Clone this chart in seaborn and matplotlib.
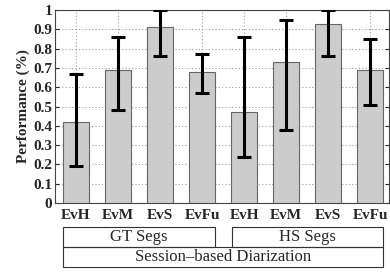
import matplotlib
matplotlib.use("Agg")
import matplotlib.pyplot as plt
from matplotlib.patches import Rectangle
import seaborn as sns
import pandas as pd
import numpy as np

# data
methods = ["EvH", "EvM", "EvS", "EvFu", "EvH", "EvM", "EvS", "EvFu"]
groups = ["GT Segs"] * 4 + ["HS Segs"] * 4
perf = [0.42, 0.69, 0.91, 0.68, 0.47, 0.73, 0.93, 0.69]
low = [0.19, 0.48, 0.76, 0.57, 0.24, 0.38, 0.76, 0.51]
high = [0.67, 0.86, 1.00, 0.77, 0.86, 0.95, 1.00, 0.85]
yticks = [0, 0.1, 0.2, 0.3, 0.4, 0.5, 0.6, 0.7, 0.8, 0.9, 1]
outer_label = "Session\u2013based Diarization"

sns.set_style("white")
plt.rcParams['font.family'] = ['Liberation Serif', 'DejaVu Serif']

df = pd.DataFrame({"key": [g + " " + m for g, m in zip(groups, methods)],
                   "perf": perf})

fig = plt.figure(figsize=(3.9, 2.73), dpi=100)
ax = fig.add_axes([55 / 390, 70 / 273, 334 / 390, 193 / 273])

sns.barplot(data=df, x="key", y="perf", color="#cccccc", edgecolor="#666666",
            linewidth=0.8, width=0.6, saturation=1, errorbar=None, ax=ax, zorder=3)

x = np.arange(len(perf))
ax.errorbar(x, perf, yerr=[np.array(perf) - np.array(low), np.array(high) - np.array(perf)],
            fmt="none", ecolor="black", elinewidth=2.2, capsize=5, capthick=2.2, zorder=4)

ax.set_xlim(-0.5, 7.45)
ax.set_ylim(0, 1)
ax.set_yticks(yticks)
ax.set_yticklabels(["0" if v == 0 else ("1" if v == 1 else "%.1f" % v) for v in yticks],
                   fontweight="bold", fontsize=11)
ax.set_xticks(x)
ax.set_xticklabels(methods, fontweight="bold", fontsize=11)
ax.set_xlabel("")
ax.set_ylabel("Performance (%)", fontweight="bold", fontsize=11, labelpad=2)
ax.tick_params(axis="both", length=3, direction="in", right=True, top=False,
               left=True, bottom=True)
ax.tick_params(axis="x", pad=4)
ax.tick_params(axis="y", pad=2)
ax.grid(True, linestyle=(0, (1, 2)), color="#999999", linewidth=0.8, zorder=0)
for s in ax.spines.values():
    s.set_color("#444444")
    s.set_linewidth(0.8)

# group boxes under the axis
def box(x0, y0, w, h, text):
    r = Rectangle((x0 / 390, 1 - (y0 + h) / 273), w / 390, h / 273,
                  transform=fig.transFigure, fill=False, edgecolor="#333333", linewidth=0.8)
    fig.add_artist(r)
    fig.text((x0 + w / 2) / 390, 1 - (y0 + h / 2) / 273, text, ha="center", va="center",
             fontsize=12)

box(63, 227, 152, 20, "GT Segs")
box(232, 227, 151, 20, "HS Segs")
box(63, 247, 320, 20, outer_label)

fig.savefig("out.png", dpi=100)
